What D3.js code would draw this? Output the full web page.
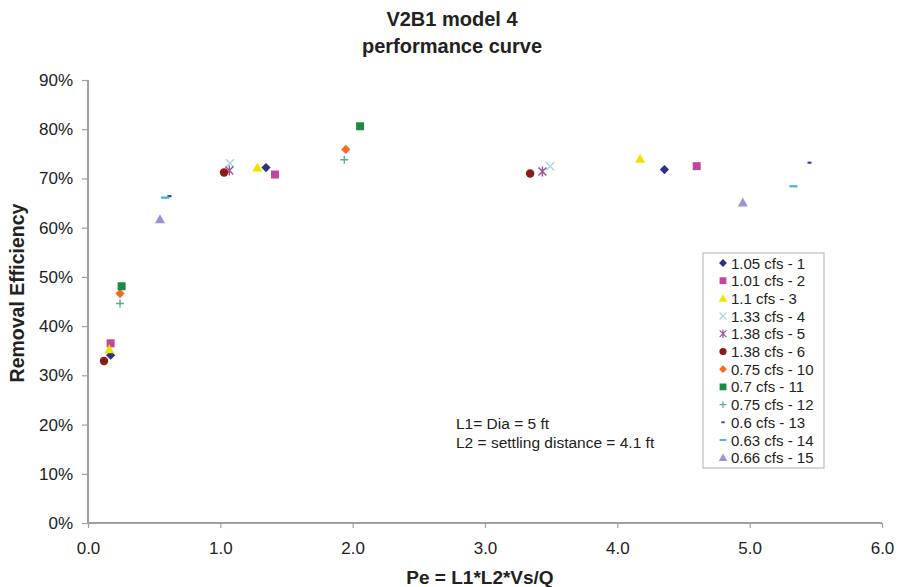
<!DOCTYPE html>
<html><head><meta charset="utf-8">
<script src="https://cdn.jsdelivr.net/npm/d3@7"></script>
<style>body{margin:0;background:#fff}svg{display:block;font-family:"Liberation Sans",Arial,sans-serif}</style>
</head><body><svg id="c" width="898" height="587"></svg>
<script>
const seriesNames = ["1.05 cfs - 1","1.01 cfs - 2","1.1 cfs - 3","1.33 cfs - 4","1.38 cfs - 5","1.38 cfs - 6","0.75 cfs - 10","0.7 cfs - 11","0.75 cfs - 12","0.6 cfs - 13","0.63 cfs - 14","0.66 cfs - 15"];
const seriesX = [
  [0.171,1.345,4.356],
  [0.171,1.413,4.60],
  [0.161,1.28,4.172],
  [1.073,3.492],
  [1.068,3.434],
  [0.121,1.028,3.341],
  [0.242,1.948],
  [0.254,2.056],
  [0.242,1.937],
  [0.615,5.452],
  [0.582,5.331],
  [0.544,4.948]
];
const seriesY = [
  [0.341,0.722,0.718],
  [0.365,0.708,0.725],
  [0.353,0.722,0.740],
  [0.731,0.725],
  [0.716,0.714],
  [0.329,0.712,0.710],
  [0.466,0.759],
  [0.481,0.806],
  [0.446,0.738],
  [0.664,0.732],
  [0.661,0.684],
  [0.617,0.651]
];
const xTicks = [0,1,2,3,4,5,6];
const yTicks = [0,0.1,0.2,0.3,0.4,0.5,0.6,0.7,0.8,0.9];
const colors = ["#2b2f85","#c2469c","#efe200","#9fd8e8","#9b4f96","#8b1a1a","#f26a24","#1a8a44","#5aa8a0","#3344aa","#44b0e0","#9a94d4"];
const shapes = ["diamond","square","triangle","x","star","circle","diamond","square","plus","dashS","dash","triangle"];

const svg = d3.select("#c");
const m = {l:88, r:882, t:80, b:523};
const x = d3.scaleLinear().domain([0,6]).range([m.l,m.r]);
const y = d3.scaleLinear().domain([0,0.9]).range([m.b,m.t]);

function shapePath(s){
  switch(s){
    case "diamond": return "M0,-4.6L4.6,0L0,4.6L-4.6,0Z";
    case "square": return "M-4,-4H4V4H-4Z";
    case "triangle": return "M0,-5L5,4H-5Z";
    case "circle": return d3.symbol(d3.symbolCircle, 56)();
    case "x": return "M-4,-4L4,4M-4,4L4,-4";
    case "star": return "M-4,-4L4,4M-4,4L4,-4M0,-5V5";
    case "plus": return "M-4,0H4M0,-4V4";
    case "dashS": return "M-2,0H2";
    case "dash": return "M-4,0H4";
  }
}
const stroked = s => ["x","star","plus","dashS","dash"].includes(s);

// axes
const gx = svg.append("g").attr("transform",`translate(0,${m.b})`)
  .call(d3.axisBottom(x).tickValues(xTicks).tickFormat(d3.format(".1f")).tickSize(5).tickPadding(14));
const gy = svg.append("g").attr("transform",`translate(${m.l},0)`)
  .call(d3.axisLeft(y).tickValues(yTicks).tickFormat(d3.format(".0%")).tickSize(6).tickPadding(9));
[gx,gy].forEach(g=>{
  g.select(".domain").attr("stroke","#a0a0a0").attr("stroke-width",2);
  g.selectAll(".tick line").attr("stroke","#a0a0a0").attr("stroke-width",1.2);
  g.selectAll("text").attr("fill","#222").style("font-size","17px").style("font-family","'Liberation Sans',Arial,sans-serif");
});
gx.selectAll("path.domain").attr("d",`M${m.l},0H${m.r}`);
gy.selectAll("path.domain").attr("d",`M0,${m.t}V${m.b}`);

// points
seriesNames.forEach((n,i)=>{
  const g = svg.append("g");
  seriesX[i].forEach((xv,j)=>{
    const p = g.append("path").attr("d",shapePath(shapes[i]))
      .attr("transform",`translate(${x(xv)},${y(seriesY[i][j])})`);
    if(stroked(shapes[i])) p.attr("fill","none").attr("stroke",colors[i]).attr("stroke-width",shapes[i].startsWith("dash")?2.2:1.4);
    else p.attr("fill",colors[i]);
  });
});

// titles
svg.append("text").attr("x",452).attr("y",26).attr("text-anchor","middle")
  .style("font-size","20px").style("font-weight","bold").attr("fill","#222").text("V2B1 model 4");
svg.append("text").attr("x",452).attr("y",53).attr("text-anchor","middle")
  .style("font-size","20px").style("font-weight","bold").attr("fill","#222").text("performance curve");
svg.append("text").attr("transform","translate(24,293) rotate(-90)").attr("text-anchor","middle")
  .style("font-size","19.5px").style("font-weight","bold").attr("fill","#222").text("Removal Efficiency");
svg.append("text").attr("x",480).attr("y",584).attr("text-anchor","middle")
  .style("font-size","19px").style("font-weight","bold").attr("fill","#222").text("Pe = L1*L2*Vs/Q");

// annotation
svg.append("text").attr("x",456).attr("y",429).style("font-size","15.5px").attr("fill","#222").text("L1= Dia = 5 ft");
svg.append("text").attr("x",456).attr("y",448).style("font-size","15.5px").attr("fill","#222").text("L2 = settling distance = 4.1 ft");

// legend
const lg = svg.append("g");
lg.append("rect").attr("x",703).attr("y",253).attr("width",121).attr("height",215)
  .attr("fill","#fff").attr("stroke","#b0b0b0").attr("stroke-width",1);
seriesNames.forEach((n,i)=>{
  const cy = 263 + i*17.7;
  const p = lg.append("path").attr("d",shapePath(shapes[i])).attr("transform",`translate(723,${cy}) scale(0.85)`);
  if(stroked(shapes[i])) p.attr("fill","none").attr("stroke",colors[i]).attr("stroke-width",shapes[i].startsWith("dash")?2.2:1.4);
  else p.attr("fill",colors[i]);
  lg.append("text").attr("x",731).attr("y",cy+5.5).style("font-size","15px").attr("fill","#222").text(n);
});
</script></body></html>
